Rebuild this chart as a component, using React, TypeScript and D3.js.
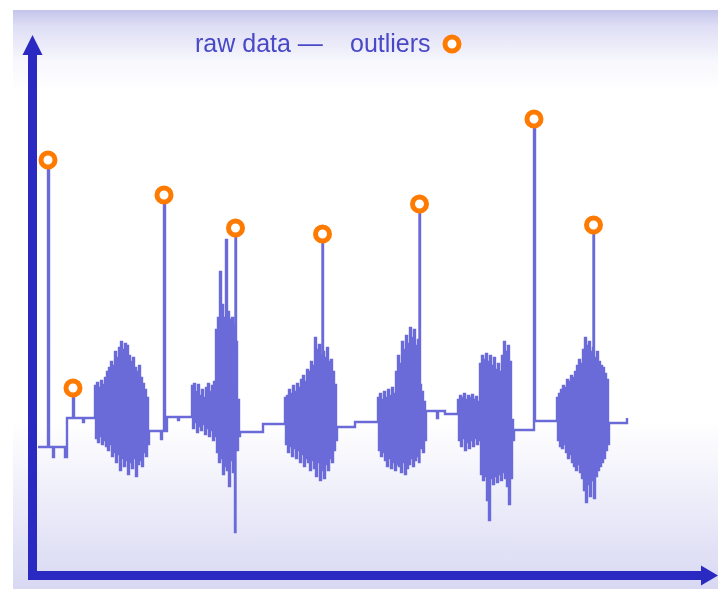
import React from 'react';
import * as d3 from 'd3';

const width = 718;
const height = 589;

// quiet stretches of the signal: [sample, value], held until the next point
const quietSteps: [number, number][] = [
  [0, 0], [11, 0], [15, -1.0], [16, 0], [27, -1.0], [29, 2.9], [36, 2.9], [45, 2.5], [46, 2.9],
  [111, 1.6], [123, 0.8], [124, 1.6], [127, 1.6], [129, 3.0], [140, 2.7], [141, 3.0],
  [202, 1.5], [225, 2.3],
  [299, 2.0], [317, 2.5],
  [388, 3.6], [399, 2.9], [400, 3.6], [407, 3.3],
  [476, 1.7], [497, 2.6],
  [571, 2.4], [589, 2.9],
];

// bursts: first sample, then the highs and lows
const burstStarts = [57, 154, 247, 340, 420, 519];

const burst1Hi = [6.1, 6.4, 5.9, 6.6, 6.2, 6.9, 7.5, 7.9, 8.5, 8.1, 9.5, 8.9, 9.9, 10.5, 9.7, 10.3, 10.1, 9.1, 8.5, 8.9, 7.9, 7.5, 8.1, 6.9, 6.3, 5.7, 4.9];
const burst1Lo = [0.9, 0.5, 1.1, 0.3, 0.7, 0.1, -0.3, 0.3, -0.9, -0.5, -1.5, -0.7, -2.3, -1.1, -1.9, -1.3, -2.7, -1.5, -2.1, -1.1, -2.9, -1.7, -1.3, -1.9, -0.5, -0.9, 0.3];

const burst2Hi = [6.1, 6.3, 5.5, 6.2, 5.1, 5.7, 4.9, 5.9, 6.3, 5.5, 6.1, 6.5, 11.7, 12.9, 17.5, 14.2, 12.9, 20.7, 13.5, 12.7, 12.9, 12.1, 10.5, 4.7];
const burst2Lo = [1.9, 2.5, 1.5, 2.1, 1.7, 2.3, 1.3, 1.9, 1.1, 1.7, 0.7, 1.1, -0.5, -1.5, -1.1, -2.7, -1.9, -2.3, -3.9, -1.3, -2.5, -8.5, -0.3, 1.1];

const burst3Hi = [4.9, 5.1, 5.7, 5.3, 6.1, 5.5, 6.3, 5.9, 6.7, 7.1, 6.5, 7.7, 7.5, 8.5, 8.1, 10.9, 9.7, 10.2, 9.1, 9.5, 8.9, 9.9, 8.5, 8.7, 7.5, 6.2];
const burst3Lo = [0.3, -0.5, 0.1, -0.9, -0.1, -1.1, -0.3, -1.5, -0.7, -1.9, -1.1, -1.5, -2.3, -1.3, -2.1, -2.9, -1.5, -3.3, -2.3, -3.1, -1.7, -2.3, -1.1, -1.5, -0.3, 0.7];

const burst4Hi = [4.9, 5.3, 4.7, 5.5, 4.9, 5.7, 5.1, 5.9, 5.3, 7.5, 9.1, 8.3, 10.5, 9.7, 11.1, 10.3, 11.9, 10.9, 11.7, 10.1, 10.7, 6.2, 5.5, 4.5];
const burst4Lo = [-0.3, -0.9, -0.5, -1.3, -1.9, -1.1, -2.1, -1.5, -2.3, -1.7, -1.9, -2.5, -1.5, -2.7, -2.1, -1.7, -1.1, -1.9, -1.3, -0.9, -1.5, -0.1, -0.5, 0.7];

const burst5Hi = [4.7, 5.1, 4.9, 5.3, 4.7, 5.1, 4.9, 5.2, 4.7, 5.0, 4.5, 8.3, 9.1, 8.7, 9.3, 8.5, 9.1, 8.1, 8.9, 7.7, 8.3, 7.5, 9.1, 10.5, 9.5, 10.1, 8.5, 2.7];
const burst5Lo = [0.7, 0.1, 0.9, -0.3, 0.5, -0.1, 0.7, 0.1, 0.9, 0.3, 0.7, -2.7, -3.3, -2.9, -5.3, -7.3, -3.1, -3.7, -2.9, -3.5, -2.7, -3.3, -2.5, -3.1, -3.9, -5.7, -3.1, 0.7];

const burst6Hi = [4.9, 5.3, 5.7, 6.1, 5.9, 6.7, 6.5, 7.1, 6.9, 7.5, 8.1, 8.7, 8.3, 9.7, 10.9, 10.1, 10.5, 9.5, 9.9, 8.9, 9.5, 8.5, 8.1, 7.9, 7.3, 6.7];
const burst6Lo = [0.7, 0.1, -0.1, 0.3, -0.5, -1.1, -0.7, -1.5, -1.9, -2.3, -1.7, -2.5, -3.1, -4.3, -5.5, -3.7, -4.9, -3.3, -5.1, -2.9, -2.3, -1.9, -1.5, -1.1, -0.3, 0.3];

const burstHighs = [burst1Hi, burst2Hi, burst3Hi, burst4Hi, burst5Hi, burst6Hi];
const burstLows = [burst1Lo, burst2Lo, burst3Lo, burst4Lo, burst5Lo, burst6Lo];

// outliers: [sample, value]
const outliers: [number, number][] = [
  [10, 28.7], [35, 5.9], [126, 25.2], [197.5, 21.9],
  [284.5, 21.3], [381.5, 24.3], [496, 32.8], [555.5, 22.2],
];

const legendLabels = ['raw data —', 'outliers'];

const rawColor = '#6b6bd8';
const axisColor = '#2b2bc2';
const outlierColor = '#ff7a00';

const App = () => {
  const xScale = d3.scaleLinear().domain([0, 680]).range([38, 718]);
  const yScale = d3.scaleLinear().domain([-13, 33]).range([577, 117]);

  const burstPoints: [number, number][] = burstStarts.flatMap((start, b) =>
    burstHighs[b].flatMap((h, i) => [
      [start + 2 * i, h] as [number, number],
      [start + 2 * i + 1, burstLows[b][i]] as [number, number],
    ])
  );

  const raw = [...quietSteps, ...burstPoints, ...outliers].sort((a, b) => a[0] - b[0]);

  const line = d3.line<[number, number]>()
    .x(d => xScale(d[0]))
    .y(d => yScale(d[1]))
    .curve(d3.curveStepAfter);

  const axisX = 32.5;
  const axisY = 575.5;

  return (
    <svg width={width} height={height} style={{ position: 'absolute', left: 0, top: 0, display: 'block' }}>
      <defs>
        <linearGradient id="bg" x1="0" y1="0" x2="0" y2="1">
          <stop offset="0" stopColor="#c4c4ec" />
          <stop offset="0.028" stopColor="#dedef5" />
          <stop offset="0.088" stopColor="#f7f7fd" />
          <stop offset="0.14" stopColor="#ffffff" />
          <stop offset="0.71" stopColor="#ffffff" />
          <stop offset="0.84" stopColor="#eeeefa" />
          <stop offset="1" stopColor="#d8d8f3" />
        </linearGradient>
        <filter id="soft" x="-5%" y="-5%" width="110%" height="110%">
          <feGaussianBlur stdDeviation="0.5" />
        </filter>
      </defs>
      <rect width={width} height={height} fill="#fff" />
      <rect x={13} y={10} width={width - 13} height={height - 10} fill="url(#bg)" />

      <g filter="url(#soft)">
        <path d={line(raw) ?? ''} fill="none" stroke={rawColor} strokeWidth={2.4} />

        {/* axes */}
        <line x1={axisX} y1={axisY + 4.5} x2={axisX} y2={54} stroke={axisColor} strokeWidth={9} />
        <polygon points={`${axisX},35 ${axisX - 10},55 ${axisX + 10},55`} fill={axisColor} />
        <line x1={axisX - 4.5} y1={axisY} x2={703} y2={axisY} stroke={axisColor} strokeWidth={9} />
        <polygon points={`${width},${axisY} ${701},${axisY - 10} ${701},${axisY + 10}`} fill={axisColor} />

        {outliers.map(([t, v]) => (
          <circle key={t} cx={xScale(t)} cy={yScale(v)} r={7} fill="#fff" stroke={outlierColor} strokeWidth={5} />
        ))}

        <g fontFamily="'Liberation Sans', Arial, sans-serif" fontSize={25} fill="#4848c8">
          <text x={195} y={52}>{legendLabels[0]}</text>
          <text x={350} y={52}>{legendLabels[1]}</text>
        </g>
        <circle cx={452} cy={44} r={7} fill="#fff" stroke={outlierColor} strokeWidth={5} />
      </g>
    </svg>
  );
};

export default App;
